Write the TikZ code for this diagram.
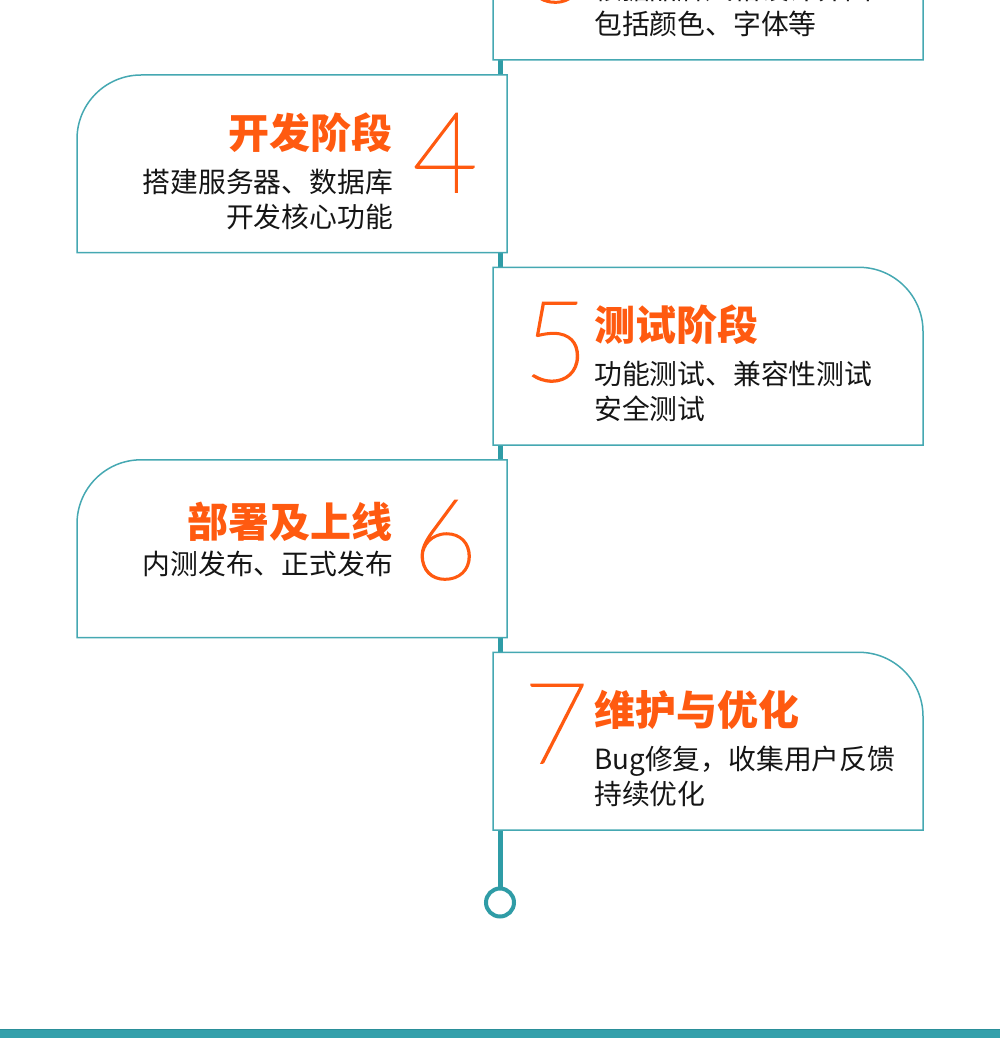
\documentclass[tikz,border=0pt]{standalone}
\usepackage{fontspec}
\setmainfont{Noto Sans CJK SC}
\newfontfamily\cjk{Noto Sans CJK SC}
\IfFontExistsTF{Lato Thin}{%
  \newfontfamily\numfont{Lato Thin}[FakeBold=1.7]\def\numsize{112}}{%
  \IfFontExistsTF{FiraSans-Thin.otf}{%
    \newfontfamily\numfont{FiraSans-Thin.otf}\def\numsize{116}}{%
    \newfontfamily\numfont{DejaVu Sans}\def\numsize{110}}}
\definecolor{orng}{HTML}{FF5A10}
\definecolor{boxc}{HTML}{45A8B2}
\definecolor{linec}{HTML}{2F9CA6}
\definecolor{barc}{HTML}{34A0AB}
\definecolor{barl}{HTML}{2A8F99}
\definecolor{txt}{HTML}{151515}
\newcommand\rightcard[1]{%
  \draw[card] (493,{#1+177.7}) -- (493,#1) -- (859,#1)
    .. controls (894.3,#1) and (923,{#1+28.7}) .. (923,{#1+64})
    -- (923,{#1+177.7}) -- cycle;}
\newcommand\leftcard[1]{%
  \draw[card] (507,{#1+177.7}) -- (507,#1) -- (141,#1)
    .. controls (105.7,#1) and (77,{#1+28.7}) .. (77,{#1+64})
    -- (77,{#1+177.7}) -- cycle;}
\begin{document}
\begin{tikzpicture}[x=1pt,y=-1pt,
  card/.style={draw=boxc, line width=1.5pt, fill=white},
  ttl/.style={text=orng, font=\cjk\bfseries\fontsize{41}{41}\selectfont, inner sep=0pt},
  bdy/.style={text=txt, font=\cjk\fontsize{27.8}{27.8}\selectfont, inner sep=0pt},
  num/.style={text=orng, font=\numfont\fontsize{\numsize}{\numsize}\selectfont, inner sep=0pt, anchor=base}]
\useasboundingbox (0,0) rectangle (1000,1038);
\clip (0,0) rectangle (1000,1038);
% timeline
\coordinate (tl) at (500,0);
\node[circle, draw=linec, line width=4pt, fill=white, minimum size=28pt, inner sep=0pt] (endc) at (500,902.5) {};
\draw[linec, line width=5pt] (tl) -- (endc.north);
% cards
\rightcard{-117.7}
\leftcard{75}
\rightcard{267.3}
\leftcard{459.8}
\rightcard{652.3}
% card 3 (cut at top)
\node[num] (n3) at (556,2) {3};
\node[bdy, anchor=base west] (b3a) at (594,-0.7) {根据品牌风格设计界面};
\node[bdy, anchor=base west] (b3b) at (594,34.3) {包括颜色、字体等};
% card 4
\node[num] (n4) at (445,192) {4};
\node[ttl, anchor=base east] (t4) at (393,148) {开发阶段};
\node[bdy, anchor=base east] (b4a) at (393,192) {搭建服务器、数据库};
\node[bdy, anchor=base east] (b4b) at (393,227) {开发核心功能};
% card 5
\node[num] (n5) at (556,381) {5};
\node[ttl, anchor=base west] (t5) at (594,340.3) {测试阶段};
\node[bdy, anchor=base west] (b5a) at (594,384.3) {功能测试、兼容性测试};
\node[bdy, anchor=base west] (b5b) at (594,419.3) {安全测试};
% card 6
\node[num] (n6) at (445,579) {6};
\node[ttl, anchor=base east] (t6) at (393,537.3) {部署及上线};
\node[bdy, anchor=base east] (b6a) at (393,574) {内测发布、正式发布};
% card 7
\node[num] (n7) at (556,763) {7};
\node[ttl, anchor=base west] (t7) at (594,725.3) {维护与优化};
\node[bdy, anchor=base west] (b7a) at (594,769.3) {Bug修复，收集用户反馈};
\node[bdy, anchor=base west] (b7b) at (594,804.3) {持续优化};
% bottom bar
\fill[barc] (0,1029.3) rectangle (1000,1038);
\draw[barl, line width=0.8pt] (0,1029.7) -- (1000,1029.7);
\end{tikzpicture}
\end{document}
